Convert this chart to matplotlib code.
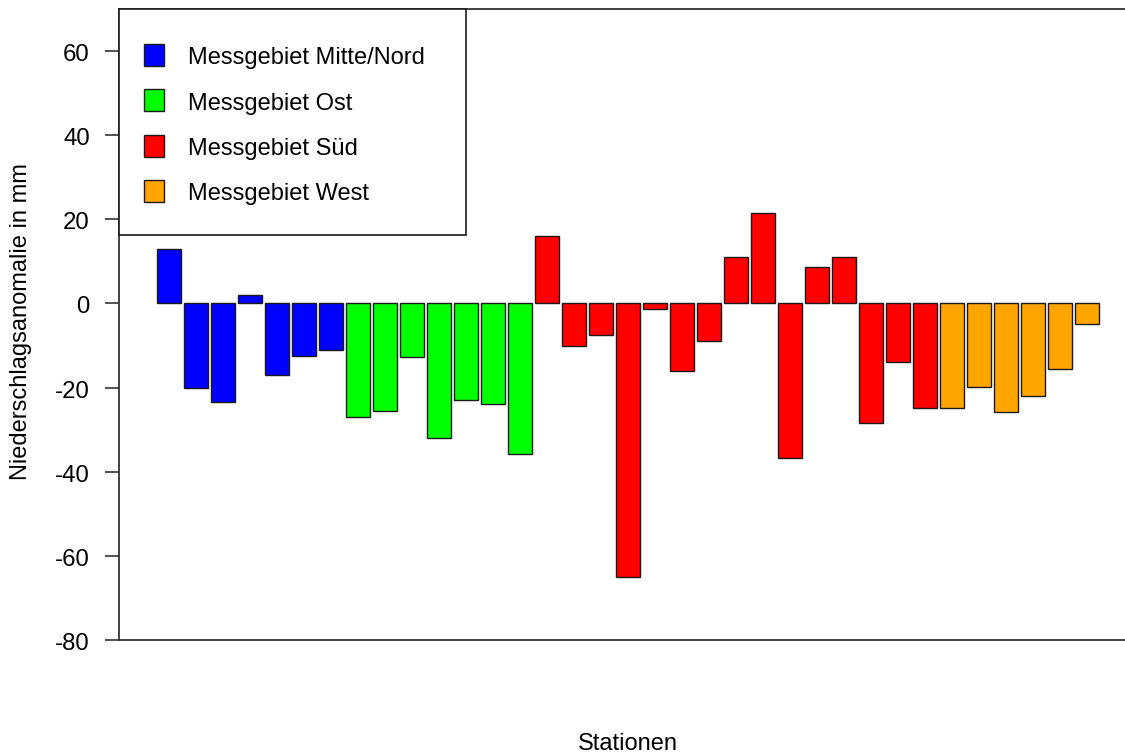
import matplotlib
matplotlib.use("Agg")
import matplotlib.pyplot as plt
import matplotlib.transforms as mtransforms
from matplotlib.patches import Rectangle

plt.rcParams['font.family'] = ['Liberation Sans', 'DejaVu Sans']

# Precipitation anomaly per station (mm), grouped by measuring region
regions = ["Messgebiet Mitte/Nord", "Messgebiet Ost", "Messgebiet Süd", "Messgebiet West"]
region_colors = ["#0000FF", "#00FF00", "#FF0000", "#FFA500"]

anomaly_mitte_nord = [13, -20, -23.5, 2, -17, -12.5, -11]
anomaly_ost = [-27, -25.5, -12.7, -32, -23, -24, -35.8]
anomaly_sued = [16, -10, -7.5, -65, -1.4, -16, -9, 11, 21.6, -36.8, 8.6, 11, -28.3, -14, -24.8]
anomaly_west = [-24.8, -19.8, -25.9, -22, -15.6, -4.8]

groups = [anomaly_mitte_nord, anomaly_ost, anomaly_sued, anomaly_west]
values = [v for g in groups for v in g]
colors = [c for g, c in zip(groups, region_colors) for _ in g]

y_ticks = [60, 40, 20, 0, -20, -40, -60, -80]

W, H = 1125, 754
fig = plt.figure(figsize=(W / 100, H / 100), dpi=100)
ax_left, ax_right, ax_top, ax_bottom = 119, 1137, 9, 640
ax = fig.add_axes([ax_left / W, 1 - ax_bottom / H,
                   (ax_right - ax_left) / W, (ax_bottom - ax_top) / H])

# barplot layout: width 1, gap 0.1
space = 0.1
n = len(values)
centers = [space + 0.5 + i * (1 + space) for i in range(n)]
ax.bar(centers, values, width=1.0, color=colors, edgecolor="#1a1a1a", linewidth=1.0)

x_lo, x_hi = space, n * (1 + space)
ext = 0.04 * (x_hi - x_lo)
ax.set_xlim(x_lo - ext, x_hi + ext)
ax.set_ylim(-80, 70)

ax.set_xticks([])
ax.set_yticks(y_ticks)
ax.set_yticklabels([str(t) for t in y_ticks])
ax.tick_params(axis='y', length=10, width=1.2, color="#333333", pad=11, labelsize=17.3)
shift_down = mtransforms.ScaledTranslation(0, -0.015, fig.dpi_scale_trans)
for lab in ax.get_yticklabels():
    lab.set_transform(lab.get_transform() + shift_down)
for s in ax.spines.values():
    s.set_color("#333333")
    s.set_linewidth(1.3)

aw, ah = ax_right - ax_left, ax_bottom - ax_top
def fx(px):
    return (px - ax_left) / aw
def fy(py):
    return (ax_bottom - py) / ah

ax.set_ylabel("Niederschlagsanomalie in mm", fontsize=17, va="center")
ax.yaxis.set_label_coords(fx(21), fy(321.5))
ax.set_xlabel("Stationen", fontsize=17)
ax.xaxis.set_label_coords(0.5, fy(750))
ax.xaxis.label.set_va("baseline")

# legend box drawn in axes coordinates
ax.add_patch(Rectangle((0, fy(235)), fx(466), 1 - fy(235), transform=ax.transAxes,
                       facecolor="white", edgecolor="#1a1a1a", linewidth=1.2,
                       zorder=5, clip_on=False))
row_y = [54.5, 100, 145.5, 190.5]
for label, col, yc in zip(regions, region_colors, row_y):
    ax.add_patch(Rectangle((fx(144), fy(yc + 11)), fx(164) - fx(144), 22 / ah,
                           transform=ax.transAxes, facecolor=col,
                           edgecolor="#1a1a1a", linewidth=1.0, zorder=6))
    ax.text(fx(187.5), fy(yc + 9.8), label, transform=ax.transAxes, fontsize=17,
            va="baseline", ha="left", zorder=6)

fig.savefig("out.png", dpi=100)
